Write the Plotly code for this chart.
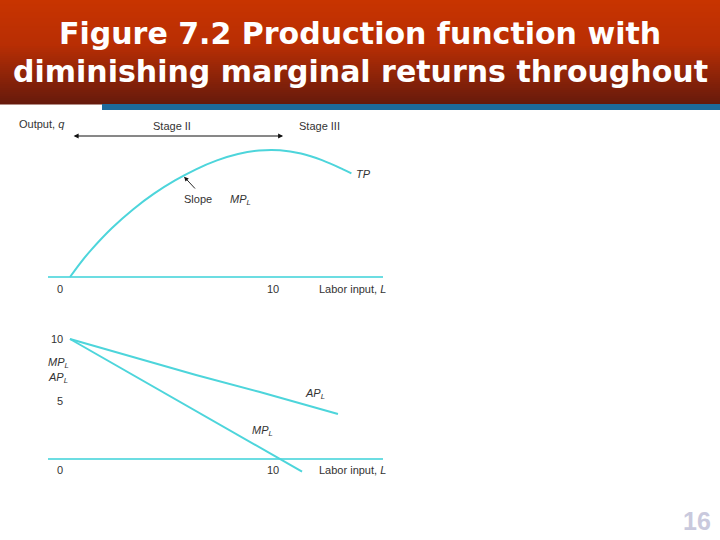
import numpy as np
import plotly.graph_objects as go

W, H = 720, 540

# ---------------- data ----------------
labor_tp = [0, 0.5, 1, 2, 3, 4, 5, 6, 7, 8, 9, 10, 11, 12, 13, 13.4]
total_product = [0, 5.6, 10.6, 19.3, 26.6, 32.8, 38.0, 42.4, 45.9, 48.4, 49.8, 49.9, 48.6, 46.0, 42.4, 40.8]

labor_ap = [0, 3, 6, 9, 12, 12.76]
average_product = [10, 8.5, 7.0, 5.6, 4.15, 3.75]

labor_mp = [0, 5, 10, 11.05]
marginal_product = [10, 5, 0, -1.05]

stage_bounds = [0, 10]      # Stage II spans L = 0 .. 10
slope_point_L = 5.4         # where the "Slope" arrow touches TP

x_tick_labels = ["0", "10"]
y_tick_labels = ["10", "5", "0"]

# ---------------- layout helpers ----------------
def px(x):
    return x / W

def py(y):
    return 1 - y / H

L0_PX, PX_PER_L = 70, 21.0
X_LEFT_PX, X_RIGHT_PX = 48, 383
x_range = [(X_LEFT_PX - L0_PX) / PX_PER_L, (X_RIGHT_PX - L0_PX) / PX_PER_L]

TOP_ZERO_PX, TOP_PX_PER_UNIT = 277, 2.54
TOP_BOT_PX, TOP_TOP_PX = 292, 115
top_range = [(TOP_ZERO_PX - TOP_BOT_PX) / TOP_PX_PER_UNIT, (TOP_ZERO_PX - TOP_TOP_PX) / TOP_PX_PER_UNIT]

BOT_ZERO_PX, BOT_PX_PER_UNIT = 459, 12.0
BOT_BOT_PX, BOT_TOP_PX = 485, 320
bot_range = [(BOT_ZERO_PX - BOT_BOT_PX) / BOT_PX_PER_UNIT, (BOT_ZERO_PX - BOT_TOP_PX) / BOT_PX_PER_UNIT]

CURVE = "#4dd5db"
AXISC = "#6cdde2"
TXT = "#333333"
FONT = "Liberation Sans"

fig = go.Figure()

fig.add_trace(go.Scatter(x=labor_tp, y=total_product, mode="lines", line=dict(color=CURVE, width=2, shape="spline"),
                         xaxis="x", yaxis="y", hoverinfo="skip", showlegend=False))
fig.add_trace(go.Scatter(x=labor_ap, y=average_product, mode="lines", line=dict(color=CURVE, width=2),
                         xaxis="x2", yaxis="y2", hoverinfo="skip", showlegend=False))
fig.add_trace(go.Scatter(x=labor_mp, y=marginal_product, mode="lines", line=dict(color=CURVE, width=2),
                         xaxis="x2", yaxis="y2", hoverinfo="skip", showlegend=False))

hidden_x = dict(range=x_range, domain=[px(X_LEFT_PX), px(X_RIGHT_PX)], showgrid=False, zeroline=False,
                showticklabels=False, ticks="", showline=False, fixedrange=True)
fig.update_layout(
    xaxis=dict(hidden_x, anchor="y"),
    xaxis2=dict(hidden_x, anchor="y2"),
    yaxis=dict(range=top_range, domain=[py(TOP_BOT_PX), py(TOP_TOP_PX)], showgrid=False, zeroline=True,
               zerolinecolor=AXISC, zerolinewidth=1.5, showticklabels=False, ticks="", showline=False, anchor="x"),
    yaxis2=dict(range=bot_range, domain=[py(BOT_BOT_PX), py(BOT_TOP_PX)], showgrid=False, zeroline=True,
                zerolinecolor=AXISC, zerolinewidth=1.5, showticklabels=False, ticks="", showline=False, anchor="x2"),
)

shapes = []
# title bar gradient
stops = [(0, (200, 52, 0)), (45, (184, 46, 4)), (104, (102, 26, 12))]
def grad(y):
    for (y0, c0), (y1, c1) in zip(stops[:-1], stops[1:]):
        if y0 <= y <= y1:
            t = (y - y0) / (y1 - y0)
            return tuple(int(round(a + (b - a) * t)) for a, b in zip(c0, c1))
    return stops[-1][1]
step = 2
for y in range(0, 104, step):
    c = grad(y + step / 2)
    shapes.append(dict(type="rect", xref="paper", yref="paper", x0=0, x1=1, y0=py(y + step + 0.5), y1=py(y),
                       fillcolor="rgb(%d,%d,%d)" % c, line=dict(width=0), layer="below"))
shapes.append(dict(type="rect", xref="paper", yref="paper", x0=px(102), x1=1, y0=py(110), y1=py(104),
                   fillcolor="#1d6a9b", line=dict(width=0), layer="below"))

annotations = []
def label(text, x, y, xanchor="center", size=11, color=TXT, family=FONT):
    annotations.append(dict(text=text, x=px(x), y=py(y), xref="paper", yref="paper", xanchor=xanchor,
                            yanchor="middle", showarrow=False, font=dict(family=family, size=size, color=color)))

# title
label("<b>Figure 7.2 Production function with</b>", 360, 33, size=30, color="white", family="DejaVu Sans")
label("<b>diminishing marginal returns throughout</b>", 360, 72, size=30, color="white", family="DejaVu Sans")
# page number
label("<b>16</b>", 697, 521, size=25, color="#c9c9dd")

# top panel labels
label("Output, <i>q</i>", 17, 124, xanchor="left")
label("Stage II", 172, 126)
label("Stage III", 319, 126)
label("<i>TP</i>", 354, 174, xanchor="left")
label("Slope", 198, 199)
label("<i>MP</i><sub><i>L</i></sub>", 228, 200, xanchor="left")
label(x_tick_labels[0], 60, 289)
label(x_tick_labels[1], 273, 289)
label("Labor input, <i>L</i>", 317, 289, xanchor="left")

# bottom panel labels
label(y_tick_labels[0], 57, 339)
label("<i>MP</i><sub><i>L</i></sub>", 46, 363, xanchor="left")
label("<i>AP</i><sub><i>L</i></sub>", 46, 378, xanchor="left")
label(y_tick_labels[1], 60, 401)
label(y_tick_labels[2], 60, 470)
label("<i>AP</i><sub><i>L</i></sub>", 303, 394, xanchor="left")
label("<i>MP</i><sub><i>L</i></sub>", 250, 431, xanchor="left")
label(x_tick_labels[1], 273, 470)
label("Labor input, <i>L</i>", 317, 470, xanchor="left")

# stage arrow (double headed)
arrow_y = (TOP_ZERO_PX - 136) / TOP_PX_PER_UNIT
annotations.append(dict(x=stage_bounds[1] + 0.15, y=arrow_y, ax=stage_bounds[0] + 0.1, ay=arrow_y,
                        xref="x", yref="y", axref="x", ayref="y", text="", showarrow=True,
                        arrowhead=2, startarrowhead=2, arrowside="end+start", arrowsize=1, arrowwidth=1,
                        arrowcolor="#111111"))
# slope arrow
slope_tp = float(np.interp(slope_point_L, labor_tp, total_product))
annotations.append(dict(x=slope_point_L, y=slope_tp, xref="x", yref="y", ax=13, ay=14, text="",
                        showarrow=True, arrowhead=2, arrowsize=1, arrowwidth=0.9, arrowcolor="#111111", standoff=1))

fig.update_layout(width=W, height=H, margin=dict(l=0, r=0, t=0, b=0), paper_bgcolor="white",
                  plot_bgcolor="rgba(0,0,0,0)", shapes=shapes, annotations=annotations, showlegend=False)

fig.write_html("out.html", config={"displayModeBar": False, "staticPlot": True},
               post_script="document.body.style.margin='0px';document.body.style.overflow='hidden';")
